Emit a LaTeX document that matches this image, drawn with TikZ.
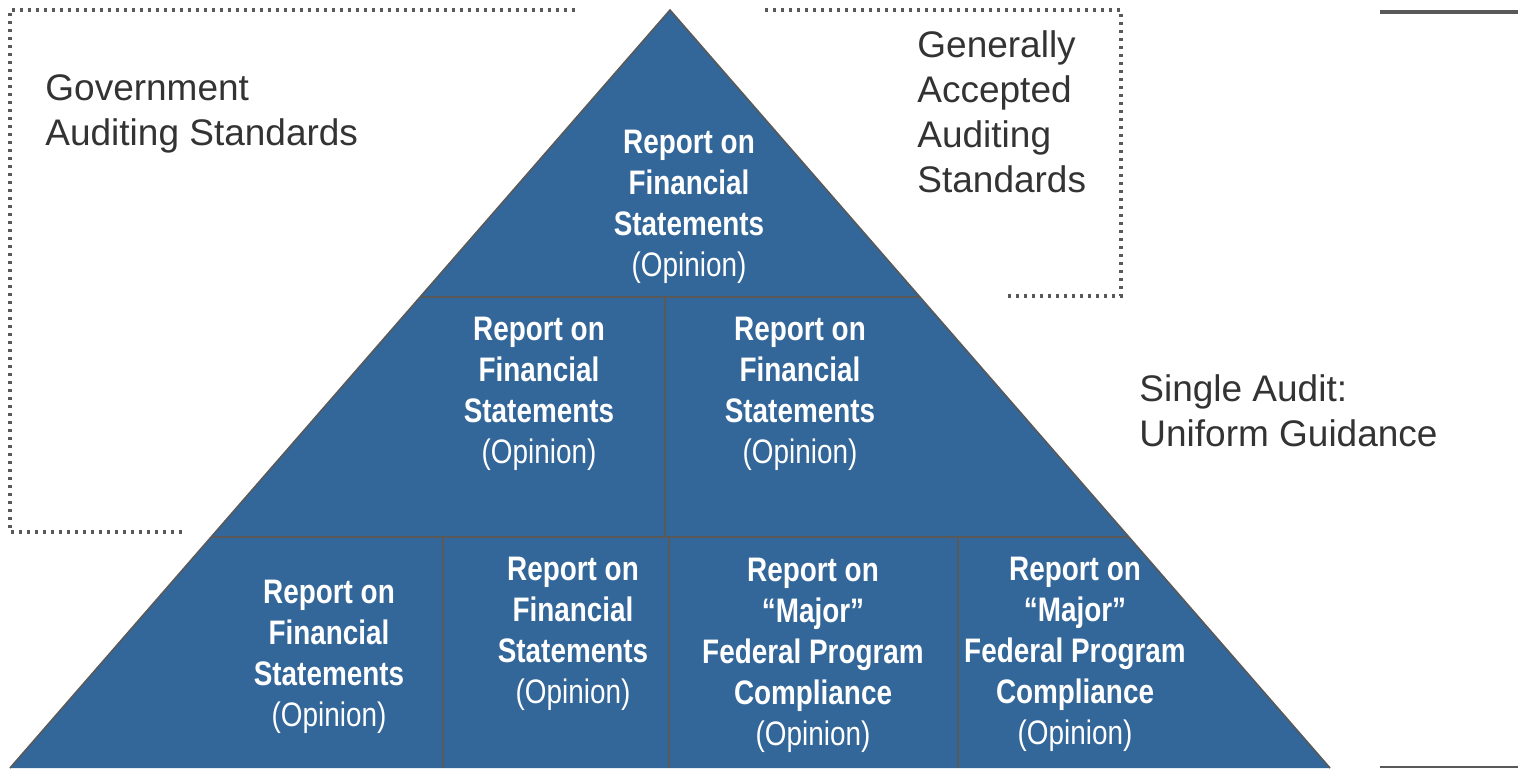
\documentclass[tikz,border=0pt]{standalone}
\usepackage{fontspec}
\setmainfont{Liberation Sans}
\newfontfamily\narrowfont[FakeStretch=0.82]{Liberation Sans}
\usetikzlibrary{calc}

\definecolor{pyrblue}{RGB}{51,102,153}
\definecolor{edgegray}{RGB}{89,89,89}
\definecolor{labelgray}{RGB}{51,51,51}

\begin{document}
\begin{tikzpicture}[x=0.5pt,y=-0.5pt,
  cell/.style={text=white,align=center,inner sep=0pt,
    font=\narrowfont\fontsize{17}{20.5}\selectfont\bfseries},
  side/.style={text=labelgray,align=left,anchor=west,inner sep=0pt,
    font=\fontsize{18.5}{22.5}\selectfont},
  border/.style={edgegray,line width=1.7pt,dash pattern=on 1.7pt off 2.3pt}]

  \useasboundingbox (0,0) rectangle (1518,768);

  \coordinate (top) at (670,10);
  \coordinate (bl) at (10,768);
  \coordinate (br) at (1330,768);

  % pyramid and its cells
  \fill[pyrblue] (top) -- (bl) -- (br) -- cycle;
  \begin{scope}
    \clip (top) -- (bl) -- (br) -- cycle;
    \draw[edgegray,line width=1pt] (0,297) -- (1518,297);
    \draw[edgegray,line width=1pt] (0,537) -- (1518,537);
    \draw[edgegray,line width=1pt] (665,297) -- (665,537);
    \foreach \x in {443,669,958}
      \draw[edgegray,line width=1pt] (\x,537) -- (\x,768);
  \end{scope}
  \draw[edgegray,line width=0.8pt] (bl) -- (top) -- (br);

  \node[cell] (peak) at (689,207) {Report on\\Financial\\Statements\\\mdseries(Opinion)};
  \node[cell] (midl) at (539,394) {Report on\\Financial\\Statements\\\mdseries(Opinion)};
  \node[cell] (midr) at (800,394) {Report on\\Financial\\Statements\\\mdseries(Opinion)};
  \node[cell] (baseA) at (329,657) {Report on\\Financial\\Statements\\\mdseries(Opinion)};
  \node[cell] (baseB) at (573,634) {Report on\\Financial\\Statements\\\mdseries(Opinion)};
  \node[cell] (baseC) at (813,655) {Report on\\“Major”\\Federal Program\\Compliance\\\mdseries(Opinion)};
  \node[cell] (baseD) at (1075,654) {Report on\\“Major”\\Federal Program\\Compliance\\\mdseries(Opinion)};

  % standards around the pyramid
  \draw[border] (575,10) -- (10,10) -- (10,532) -- (183,532);
  \draw[border] (765,10) -- (1121,10) -- (1121,296) -- (1007,296);

  \node[side] (gas) at (45,114) {Government\\Auditing Standards};
  \node[side] (gaas) at (917,112) {Generally\\Accepted\\Auditing\\Standards};
  \node[side] (single) at (1139,411) {Single Audit:\\Uniform Guidance};

  \draw[edgegray,line width=2pt] (1380,12) -- (1518,12);
  \draw[edgegray,line width=0.8pt] (1380,767) -- (1518,767);
\end{tikzpicture}
\end{document}
